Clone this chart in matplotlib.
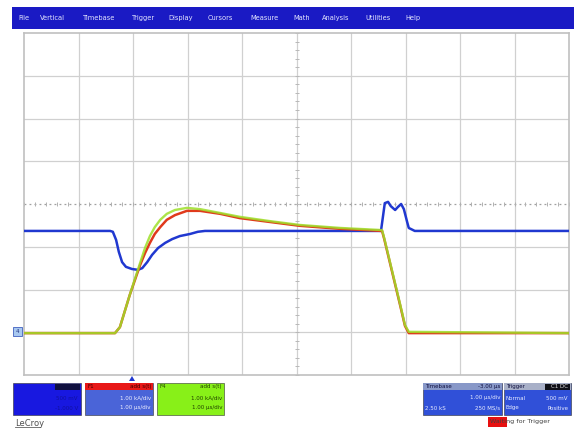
import matplotlib
matplotlib.use("Agg")
import matplotlib.pyplot as plt
from matplotlib.patches import Rectangle, Polygon

# time in microseconds (trigger at 0), amplitude in screen divisions
t_blue = [-2.00, -0.42, -0.37, -0.31, -0.26, -0.20, -0.13, -0.02, 0.09, 0.17, 0.26, 0.35, 0.46,
          0.59, 0.72, 0.86, 1.05, 1.19, 1.32, 4.55, 4.59, 4.62, 4.68, 4.73, 4.81, 4.86, 4.92,
          4.97, 5.03, 5.06, 5.17, 8.00]
v_blue = [-0.63, -0.63, -0.65, -0.84, -1.12, -1.36, -1.47, -1.52, -1.54, -1.50, -1.36, -1.19, -1.03,
          -0.91, -0.82, -0.75, -0.70, -0.65, -0.63, -0.63, -0.26, 0.02, 0.05, -0.05, -0.14, -0.07, 0.00,
          -0.12, -0.42, -0.56, -0.63, -0.63]

t_red = [-2.00, -0.33, -0.24, -0.06, 0.13, 0.22, 0.31, 0.40, 0.50, 0.62, 0.77, 0.99, 1.23, 1.60,
         1.96, 2.51, 3.06, 3.80, 4.57, 4.61, 4.90, 4.99, 5.06, 8.00]
v_red = [-3.02, -3.02, -2.88, -2.13, -1.43, -1.15, -0.91, -0.70, -0.54, -0.37, -0.26, -0.16, -0.16, -0.23,
         -0.33, -0.42, -0.51, -0.58, -0.63, -0.82, -2.36, -2.85, -3.02, -3.02]

t_green = [-2.00, -0.33, -0.24, -0.06, 0.13, 0.22, 0.31, 0.40, 0.50, 0.62, 0.77, 0.99, 1.23, 1.60,
           1.96, 2.51, 3.06, 3.80, 4.57, 4.61, 4.90, 4.99, 5.06, 8.00]
v_green = [-3.02, -3.02, -2.88, -2.13, -1.38, -1.03, -0.75, -0.54, -0.37, -0.23, -0.14, -0.09, -0.12, -0.21,
           -0.30, -0.40, -0.49, -0.56, -0.61, -0.80, -2.34, -2.83, -2.99, -3.02]

menu_items = ["File", "Vertical", "Timebase", "Trigger", "Display", "Cursors",
              "Measure", "Math", "Analysis", "Utilities", "Help"]
menu_x = [18, 40, 83, 132, 168, 208, 250, 293, 322, 365, 405]

W, H = 574, 429
fig = plt.figure(figsize=(W / 100, H / 100), dpi=100)

# chrome layer in pixel coordinates
bg = fig.add_axes([0, 0, 1, 1])
bg.set_xlim(0, W)
bg.set_ylim(H, 0)
bg.axis("off")

bg.add_patch(Rectangle((12, 7), W - 12, 22, facecolor="#1a1ac4", edgecolor="none"))
for name, x in zip(menu_items, menu_x):
    bg.text(x, 18, name, color="#e4e6ff", fontsize=4.8, va="center", ha="left")

# scope screen
x0, x1, y0, y1 = 24, 569, 33, 375
ax = fig.add_axes([x0 / W, 1 - y1 / H, (x1 - x0) / W, (y1 - y0) / H])
ax.set_xlim(-2, 8)
ax.set_ylim(-4, 4)
ax.set_xticks([])
ax.set_yticks([])
for s in ax.spines.values():
    s.set_color("#c0c0c0")
    s.set_linewidth(1.2)

for k in range(-1, 8):
    ax.axvline(k, color="#d0d0d0", lw=0.9, zorder=1)
for k in range(-3, 4):
    if k != 0:
        ax.axhline(k, color="#d0d0d0", lw=0.9, zorder=1)
# centre lines: dotted level line and light minor ticks
ax.axhline(0, color="#a0a0a0", lw=0.9, ls=(0, (1.5, 2.5)), zorder=1)
minor_x = [i * 0.2 - 2 for i in range(51)]
ax.plot(minor_x, [0] * len(minor_x), ls="none", marker="|", ms=2.5, color="#b0b0b0", mew=0.7, zorder=1)
minor_y = [i * 0.2 - 4 for i in range(41)]
ax.plot([3] * len(minor_y), minor_y, ls="none", marker="_", ms=2.5, color="#b8b8b8", mew=0.7, zorder=1)

ax.plot(t_blue, v_blue, color="#2038d0", lw=1.8, zorder=3)
ax.plot(t_red, v_red, color="#e03a1c", lw=1.8, zorder=4)
ax.plot(t_green, v_green, color="#9ee02a", lw=1.7, alpha=0.85, zorder=5)

# trace marker and trigger position marker
bg.add_patch(Rectangle((13, 327), 9, 9, facecolor="#a8c8f0", edgecolor="#4060c0", lw=0.6))
bg.text(17.5, 331.5, "4", fontsize=4, ha="center", va="center", color="#203080")
bg.add_patch(Polygon([[129, 381], [135, 381], [132, 376]], closed=True, facecolor="#2038d0"))

# channel descriptor boxes
bg.add_patch(Rectangle((13, 383), 68, 32, facecolor="#1818e0", edgecolor="#303030", lw=0.4))
bg.add_patch(Rectangle((55, 384), 25, 6, facecolor="#101040", edgecolor="none"))
bg.text(78, 398, "500 mV", fontsize=4, color="#1010a0", ha="right", va="center")
bg.text(78, 408, "-1.000 V", fontsize=4, color="#1010a0", ha="right", va="center")

bg.add_patch(Rectangle((85, 383), 68, 32, facecolor="#4a64d8", edgecolor="#303030", lw=0.4))
bg.add_patch(Rectangle((85, 383), 68, 7, facecolor="#e81818", edgecolor="none"))
bg.text(87, 386.5, "F1", fontsize=4, color="#400000", va="center")
bg.text(151, 386.5, "add s(t)", fontsize=4, color="#400000", ha="right", va="center")
bg.text(151, 398, "1.00 kA/div", fontsize=4, color="#f0f0ff", ha="right", va="center")
bg.text(151, 408, "1.00 \u00b5s/div", fontsize=4, color="#f0f0ff", ha="right", va="center")

bg.add_patch(Rectangle((157, 383), 67, 32, facecolor="#88f018", edgecolor="#303030", lw=0.4))
bg.text(159, 386.5, "F4", fontsize=4, color="#204000", va="center")
bg.text(222, 386.5, "add s(t)", fontsize=4, color="#204000", ha="right", va="center")
bg.text(222, 398, "1.00 kA/div", fontsize=4, color="#204000", ha="right", va="center")
bg.text(222, 408, "1.00 \u00b5s/div", fontsize=4, color="#204000", ha="right", va="center")

# timebase / trigger boxes
bg.add_patch(Rectangle((423, 383), 79, 32, facecolor="#3050d8", edgecolor="#303030", lw=0.4))
bg.add_patch(Rectangle((423, 383), 79, 7, facecolor="#8898c8", edgecolor="none"))
bg.text(425, 386.5, "Timebase", fontsize=4, color="#101040", va="center")
bg.text(500, 386.5, "-3.00 \u00b5s", fontsize=4, color="#101040", ha="right", va="center")
bg.text(500, 398, "1.00 \u00b5s/div", fontsize=4, color="#e8ecff", ha="right", va="center")
bg.text(425, 408, "2.50 kS", fontsize=4, color="#e8ecff", va="center")
bg.text(500, 408, "250 MS/s", fontsize=4, color="#e8ecff", ha="right", va="center")

bg.add_patch(Rectangle((504, 383), 67, 32, facecolor="#3050d8", edgecolor="#303030", lw=0.4))
bg.add_patch(Rectangle((504, 383), 67, 7, facecolor="#a8b0c8", edgecolor="none"))
bg.add_patch(Rectangle((545, 384), 25, 5.5, facecolor="#101018", edgecolor="none"))
bg.text(506, 386.5, "Trigger", fontsize=4, color="#101040", va="center")
bg.text(568, 386.5, "C1 DC", fontsize=4, color="#e0e0e0", ha="right", va="center")
bg.text(506, 398, "Normal", fontsize=4, color="#e8ecff", va="center")
bg.text(568, 398, "500 mV", fontsize=4, color="#e8ecff", ha="right", va="center")
bg.text(506, 408, "Edge", fontsize=4, color="#e8ecff", va="center")
bg.text(568, 408, "Positive", fontsize=4, color="#e8ecff", ha="right", va="center")

bg.add_patch(Rectangle((488, 417), 19, 10, facecolor="#e81010", edgecolor="none"))
bg.text(490, 422, "Waiting for Trigger", fontsize=4.6, color="#404040", va="center")

bg.text(15, 423, "LeCroy", fontsize=6, color="#505050", va="center")
bg.plot([15, 40], [427, 427], color="#606060", lw=0.6)

fig.savefig("out.png", dpi=100)
